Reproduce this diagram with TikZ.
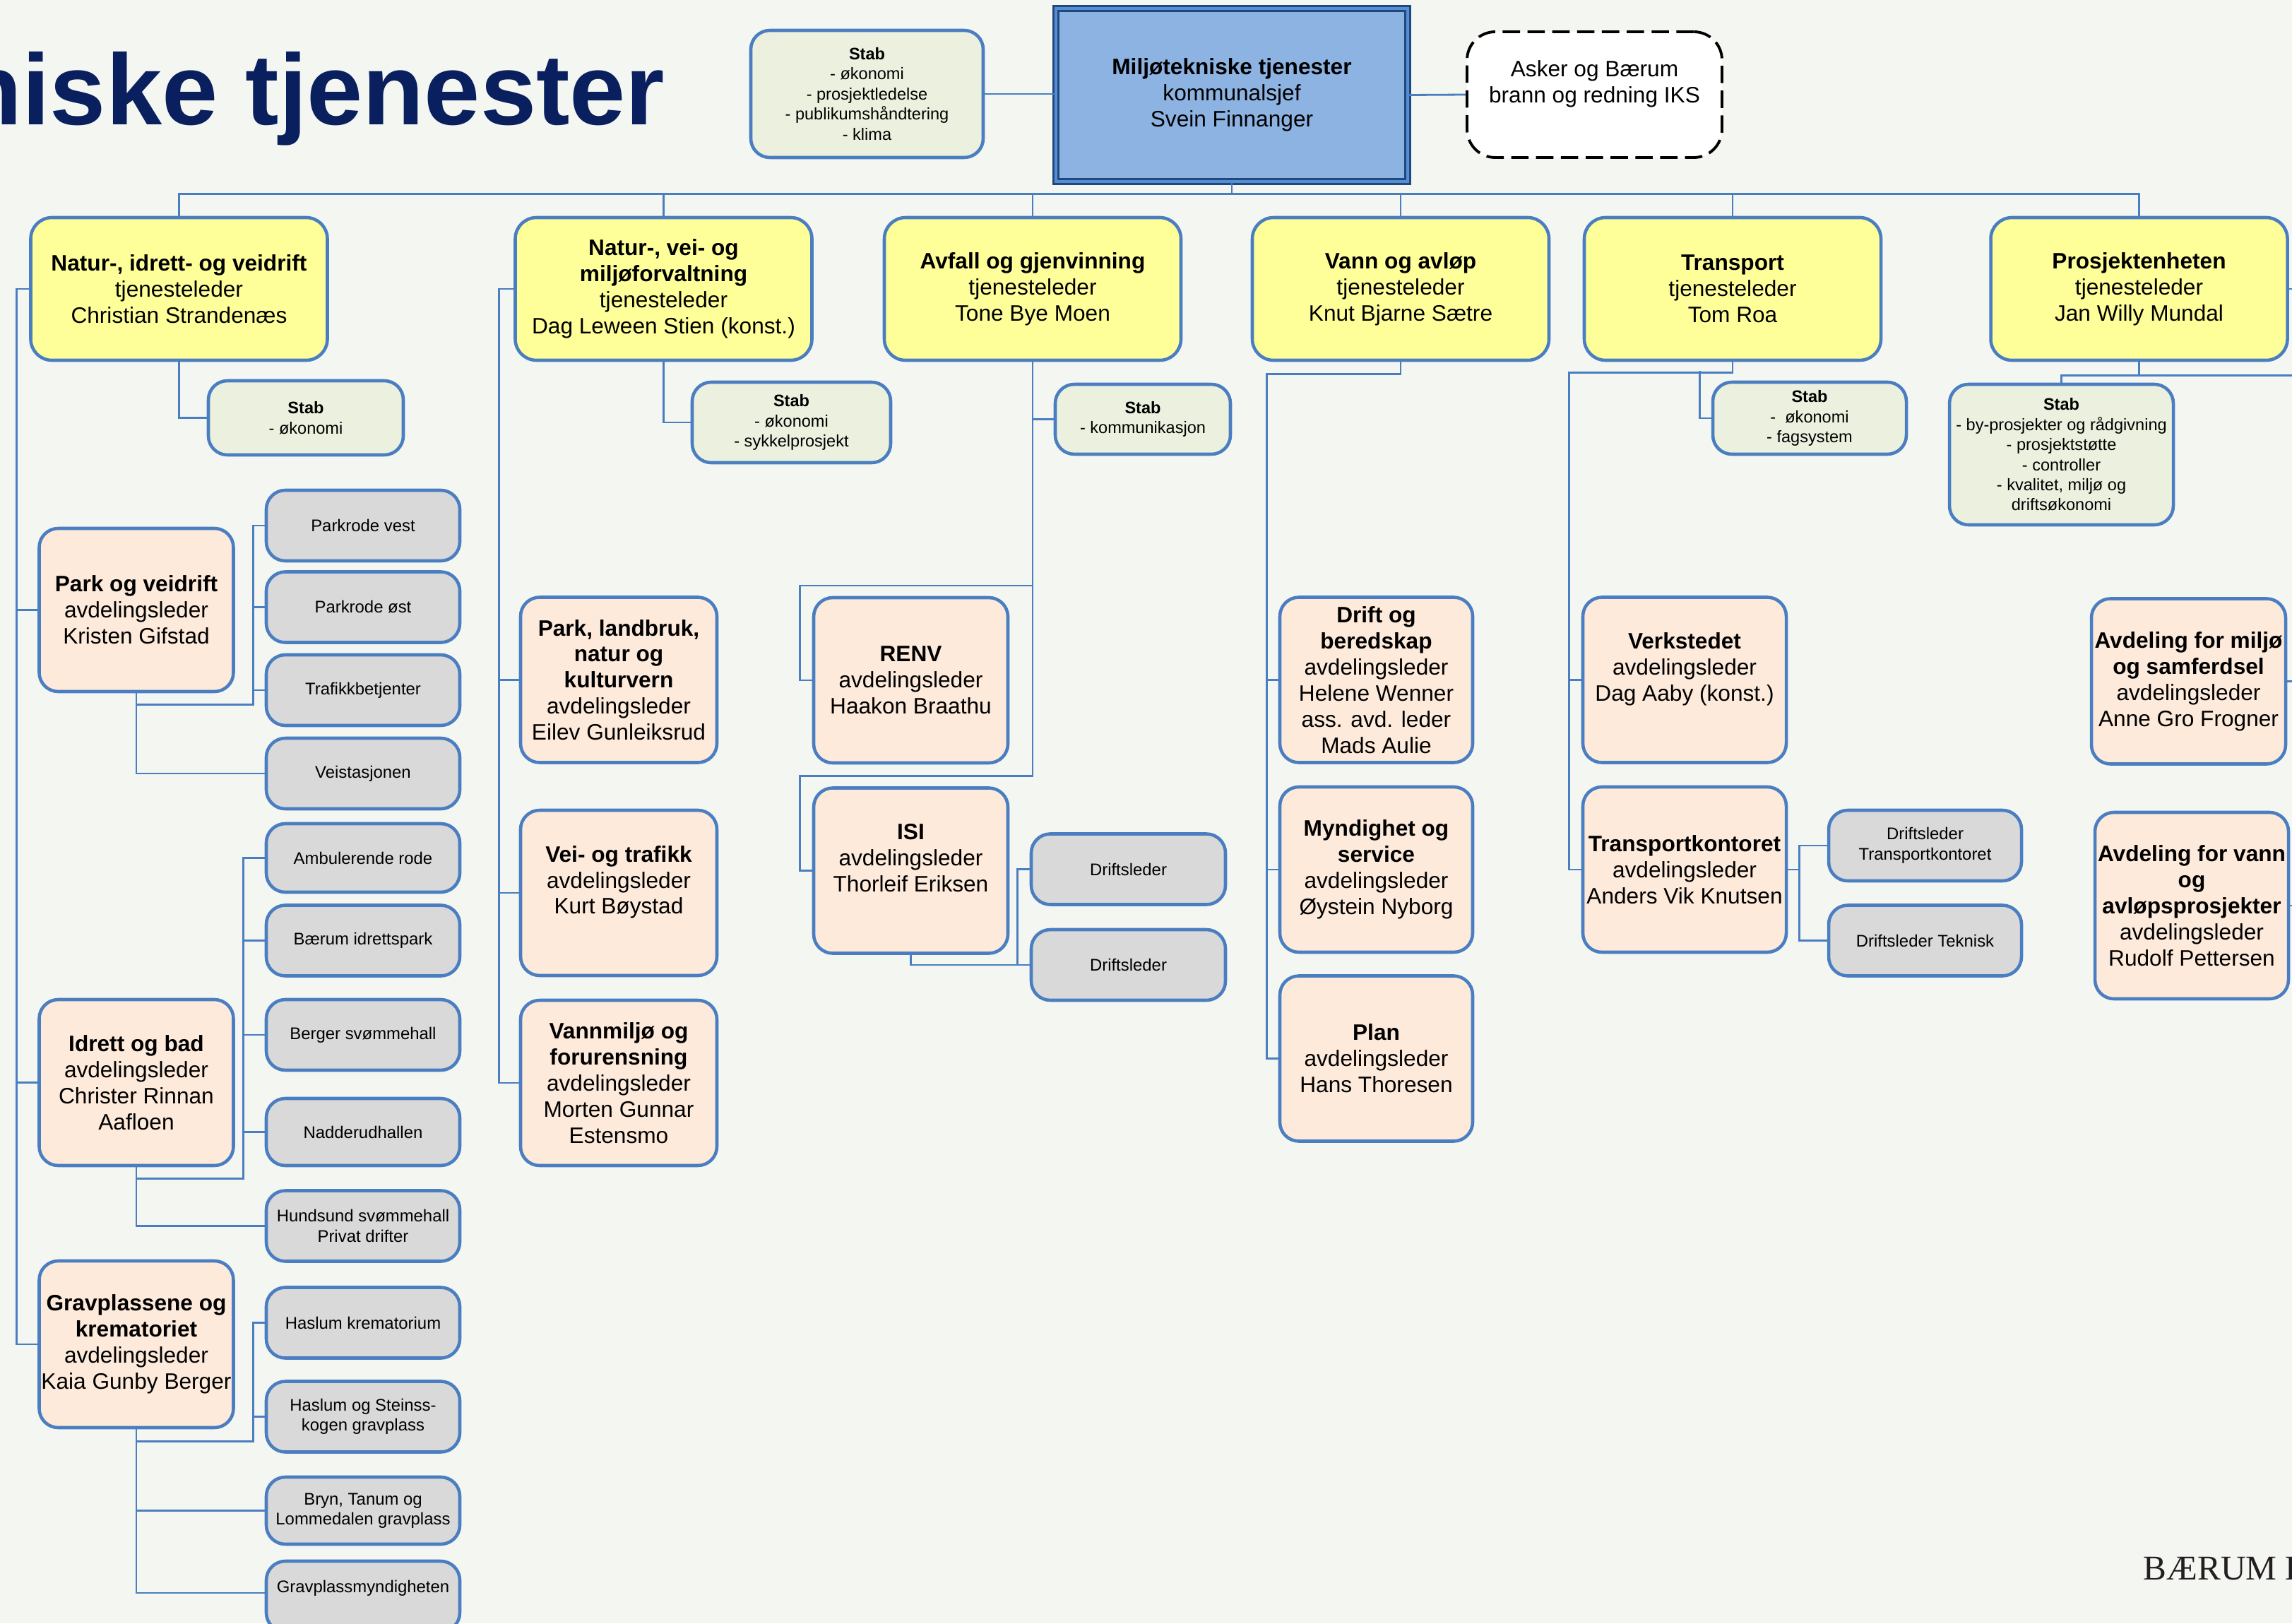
\documentclass[tikz,border=0pt]{standalone}
\usepackage{fontspec}
\setmainfont{Liberation Sans}
\newfontfamily\brandfont{Liberation Serif}
\usepackage{tikz}
\definecolor{bakgrunn}{RGB}{244,246,242}
\definecolor{linjeblaa}{RGB}{74,126,193}
\definecolor{gul}{RGB}{255,255,153}
\definecolor{fersken}{RGB}{253,234,218}
\definecolor{graa}{RGB}{217,217,217}
\definecolor{stabgronn}{RGB}{235,241,222}
\definecolor{sjefblaa}{RGB}{141,179,226}
\definecolor{morkblaa}{RGB}{31,73,125}
\definecolor{tittelblaa}{RGB}{10,31,94}
\tikzset{
    %Define style for boxes
    boks/.style={
           rectangle,
           rounded corners=0.27cm,
           draw=linjeblaa, line width=1.3pt,
           inner sep=0pt,
           align=center,
           font=\fontsize{9}{10.5}\selectfont},
    leder/.style={boks, fill=gul, rounded corners=0.3cm,
           minimum width=4.2cm, minimum height=2.02cm},
    avd/.style={boks, fill=fersken,
           minimum width=2.75cm, minimum height=2.34cm},
    rode/.style={boks, fill=graa,
           minimum width=2.74cm, minimum height=1cm,
           font=\fontsize{6.8}{8.1}\selectfont},
    stab/.style={boks, fill=stabgronn,
           font=\fontsize{6.7}{8.1}\selectfont},
    % Define line style
    linje/.style={draw=linjeblaa, line width=0.8pt}
}
\begin{document}
\begin{tikzpicture}[x=1cm,y=1cm]
\fill[bakgrunn] (0,0) rectangle (32.45,-22.98);
\useasboundingbox (0,0) rectangle (32.45,-22.98);
\node[anchor=base east, inner sep=0pt, text=tittelblaa,
      font=\fontsize{40.5}{48}\selectfont\bfseries] (tittel) at (9.42,-1.77) {niske tjenester};
\node[anchor=base west, inner sep=0pt, text={rgb,255:red,35;green,31;blue,32},
      font=\brandfont\fontsize{14}{16}\selectfont] (baerum) at (30.34,-22.36) {BÆRUM K};
 %nodes
\node[boks, rounded corners=0pt, fill=sjefblaa, draw=morkblaa, line width=0.8pt,
      double={rgb,255:red,85;green,142;blue,213}, double distance=1.2pt,
      minimum width=4.98cm, minimum height=2.45cm] (sjef) at (17.44,-1.345)
      {\textbf{Miljøtekniske tjenester}\\kommunalsjef\\Svein Finnanger};
\node[stab, minimum width=3.29cm, minimum height=1.8cm] (stab0) at (12.275,-1.33)
      {\textbf{Stab}\\- økonomi\\- prosjektledelse\\- publikumshåndtering\\- klima};
\node[boks, draw=black, fill=white, line width=1.1pt, dash pattern=on 7pt off 3pt,
      rounded corners=0.4cm, minimum width=3.61cm, minimum height=1.78cm] (brann) at (22.575,-1.34)
      {Asker og Bærum\\brann og redning IKS\\~};
% tjenester
\node[leder] (t1) at (2.535,-4.09) {\textbf{Natur-, idrett- og veidrift}\\tjenesteleder\\Christian Strandenæs};
\node[leder] (t2) at (9.395,-4.09) {\textbf{Natur-, vei- og}\\\textbf{miljøforvaltning}\\tjenesteleder\\Dag Leween Stien (konst.)};
\node[leder] (t3) at (14.62,-4.09) {\textbf{Avfall og gjenvinning}\\tjenesteleder\\Tone Bye Moen};
\node[leder] (t4) at (19.83,-4.09) {\textbf{Vann og avløp}\\tjenesteleder\\Knut Bjarne Sætre};
\node[leder] (t5) at (24.53,-4.09) {\textbf{Transport}\\tjenesteleder\\Tom Roa};
\node[leder] (t6) at (30.285,-4.09) {\textbf{Prosjektenheten}\\tjenesteleder\\Jan Willy Mundal};
% staber
\node[stab, minimum width=2.76cm, minimum height=1.05cm] (stab1) at (4.33,-5.915) {\textbf{Stab}\\- økonomi};
\node[stab, minimum width=2.81cm, minimum height=1.14cm] (stab2) at (11.205,-5.98) {\textbf{Stab}\\- økonomi\\- sykkelprosjekt};
\node[stab, minimum width=2.48cm, minimum height=0.99cm] (stab3) at (16.18,-5.935) {\textbf{Stab}\\- kommunikasjon};
\node[stab, minimum width=2.74cm, minimum height=1.02cm] (stab5) at (25.62,-5.92) {\textbf{Stab}\\-\ \ økonomi\\- fagsystem};
\node[stab, minimum width=3.17cm, minimum height=1.99cm] (stab6) at (29.185,-6.435)
      {\textbf{Stab}\\- by-prosjekter og rådgivning\\- prosjektstøtte\\- controller\\- kvalitet, miljø og\\driftsøkonomi};
% avdelinger
\node[avd, minimum height=2.31cm] (park) at (1.93,-8.635) {\textbf{Park og veidrift}\\avdelingsleder\\Kristen Gifstad};
\node[avd, minimum height=2.35cm] (idrett) at (1.93,-15.325) {\textbf{Idrett og bad}\\avdelingsleder\\Christer Rinnan\\Aafloen};
\node[avd, minimum height=2.36cm] (grav) at (1.93,-19.03) {\textbf{Gravplassene og}\\\textbf{krematoriet}\\avdelingsleder\\Kaia Gunby Berger};
\node[avd, minimum width=2.78cm] (landbruk) at (8.76,-9.625) {\textbf{Park, landbruk,}\\\textbf{natur og}\\\textbf{kulturvern}\\avdelingsleder\\Eilev Gunleiksrud};
\node[avd, minimum width=2.78cm] (vei) at (8.76,-12.64) {\textbf{Vei- og trafikk}\\avdelingsleder\\Kurt Bøystad\\~};
\node[avd, minimum width=2.78cm] (vannmiljo) at (8.76,-15.33) {\textbf{Vannmiljø og}\\\textbf{forurensning}\\avdelingsleder\\Morten Gunnar\\Estensmo};
\node[avd] (renv) at (12.895,-9.63) {\textbf{RENV}\\avdelingsleder\\Haakon Braathu};
\node[avd] (isi) at (12.895,-12.325) {\textbf{ISI}\\avdelingsleder\\Thorleif Eriksen\\~};
\node[avd, minimum width=2.73cm] (beredskap) at (19.485,-9.625) {\textbf{Drift og}\\\textbf{beredskap}\\avdelingsleder\\Helene Wenner\\ass. avd. leder\\Mads Aulie};
\node[avd, minimum width=2.73cm] (myndighet) at (19.485,-12.31) {\textbf{Myndighet og}\\\textbf{service}\\avdelingsleder\\Øystein Nyborg};
\node[avd, minimum width=2.73cm] (plan) at (19.485,-14.985) {\textbf{Plan}\\avdelingsleder\\Hans Thoresen};
\node[avd, minimum width=2.88cm] (verksted) at (23.85,-9.625) {\textbf{Verkstedet}\\avdelingsleder\\Dag Aaby (konst.)\\~};
\node[avd, minimum width=2.88cm] (tk) at (23.85,-12.31) {\textbf{Transportkontoret}\\avdelingsleder\\Anders Vik Knutsen};
\node[avd] (miljo) at (30.985,-9.645) {\textbf{Avdeling for miljø}\\\textbf{og samferdsel}\\avdelingsleder\\Anne Gro Frogner};
\node[avd, minimum width=2.74cm, minimum height=2.64cm] (vannprosj) at (31.03,-12.82) {\textbf{Avdeling for vann}\\\textbf{og}\\\textbf{avløpsprosjekter}\\avdelingsleder\\Rudolf Pettersen};
% roder
\node[rode] (pvest) at (5.14,-7.44) {Parkrode vest};
\node[rode] (post) at (5.14,-8.595) {Parkrode øst};
\node[rode] (trafikk) at (5.14,-9.77) {Trafikkbetjenter};
\node[rode] (veist) at (5.14,-10.95) {Veistasjonen};
\node[rode, minimum height=0.97cm] (ambul) at (5.14,-12.145) {Ambulerende rode};
\node[rode] (bip) at (5.14,-13.315) {Bærum idrettspark};
\node[rode] (berger) at (5.14,-14.65) {Berger svømmehall};
\node[rode, minimum height=0.95cm] (nadderud) at (5.14,-16.025) {Nadderudhallen};
\node[rode] (hundsund) at (5.14,-17.355) {Hundsund svømmehall\\Privat drifter};
\node[rode] (krem) at (5.14,-18.725) {Haslum krematorium};
\node[rode] (steinsskogen) at (5.14,-20.055) {Haslum og Steinss-\\kogen gravplass};
\node[rode, minimum height=0.95cm] (bryn) at (5.14,-21.385) {Bryn, Tanum og\\Lommedalen gravplass};
\node[rode] (gmynd) at (5.14,-22.6) {Gravplassmyndigheten\\~};
\node[rode, minimum width=2.75cm] (drift1) at (15.975,-12.305) {Driftsleder};
\node[rode, minimum width=2.75cm] (drift2) at (15.975,-13.66) {Driftsleder};
\node[rode, minimum width=2.73cm] (dtk) at (27.255,-11.97) {Driftsleder\\Transportkontoret};
\node[rode, minimum width=2.73cm] (dtek) at (27.255,-13.315) {Driftsleder Teknisk};
 %lines
\draw[linje] (stab0.east) -- (stab0.east -| sjef.west);
\draw[linje] (sjef.east) -- (brann.west);
\foreach \t in {t1,t2,t3,t4,t5,t6}
    \draw[linje] (sjef.south) -- ++(0,-0.16) -| (\t.north);
% Natur-, idrett- og veidrift
\draw[linje] (t1.south) |- (stab1.west);
\foreach \a in {park,idrett,grav}
    \draw[linje] (t1.west) -- ++(-0.18,0) |- (\a.west);
\draw[linje] (park.south) -- ++(0,-0.16) -| ([xshift=-0.16cm]pvest.west) -- (pvest.west);
\foreach \r in {post,trafikk}
    \draw[linje] (\r.west) -- ++(-0.16,0);
\draw[linje] (park.south) |- (veist.west);
\draw[linje] (idrett.south) -- ++(0,-0.16) -| ([xshift=-0.30cm]ambul.west) -- (ambul.west);
\foreach \r in {bip,berger,nadderud}
    \draw[linje] (\r.west) -- ++(-0.30,0);
\draw[linje] (idrett.south) |- (hundsund.west);
\draw[linje] (grav.south) -- ++(0,-0.17) -| ([xshift=-0.16cm]krem.west) -- (krem.west);
\draw[linje] (steinsskogen.west) -- ++(-0.16,0);
\draw[linje] (grav.south) |- (bryn.west);
\draw[linje] (grav.south) |- ([yshift=0.05cm]gmynd.west);
% Natur-, vei- og miljoforvaltning
\draw[linje] (t2.south) |- (stab2.west);
\foreach \a in {landbruk,vei,vannmiljo}
    \draw[linje] (t2.west) -- ++(-0.21,0) |- (\a.west);
% Avfall og gjenvinning
\draw[linje] (t3.south) |- (stab3.west);
\draw[linje] (t3.south) |- ([xshift=-0.17cm,yshift=1.34cm]renv.west) |- (renv.west);
\draw[linje] (t3.south) |- ([xshift=-0.17cm,yshift=1.34cm]isi.west) |- (isi.west);
\draw[linje] (isi.south) |- (drift2.west);
\draw[linje] (drift1.west) -- ++(-0.17,0) |- (drift2.west);
% Vann og avlop
\draw[linje] (t4.south) -- ++(0,-0.17) -| ([xshift=-0.16cm]plan.west) -- (plan.west);
\foreach \a in {beredskap,myndighet}
    \draw[linje] (\a.west) -- ++(-0.16,0);
% Transport
\draw[linje] (t5.south) -- ++(0,-0.15) -| ([xshift=-0.17cm]tk.west) -- (tk.west);
\draw[linje] (verksted.west) -- ++(-0.17,0);
\draw[linje] (stab5.west) -- ++(-0.16,0) -- ++(0,0.67);
\draw[linje] (tk.east) -- ++(0.16,0) |- (dtk.west);
\draw[linje] (tk.east) -- ++(0.16,0) |- (dtek.west);
% Prosjektenheten
\draw[linje] (t6.south) -- ++(0,-0.19) -| (stab6.north);
\draw[linje] (t6.south) -- ++(0,-0.19) -- ++(2.5,0);
\draw[linje] (t6.east) -- ++(0.4,0);
\draw[linje] (miljo.east) -- ++(0.3,0);
\draw[linje] (vannprosj.east) -- ++(0.3,0);
\end{tikzpicture}
\end{document}
